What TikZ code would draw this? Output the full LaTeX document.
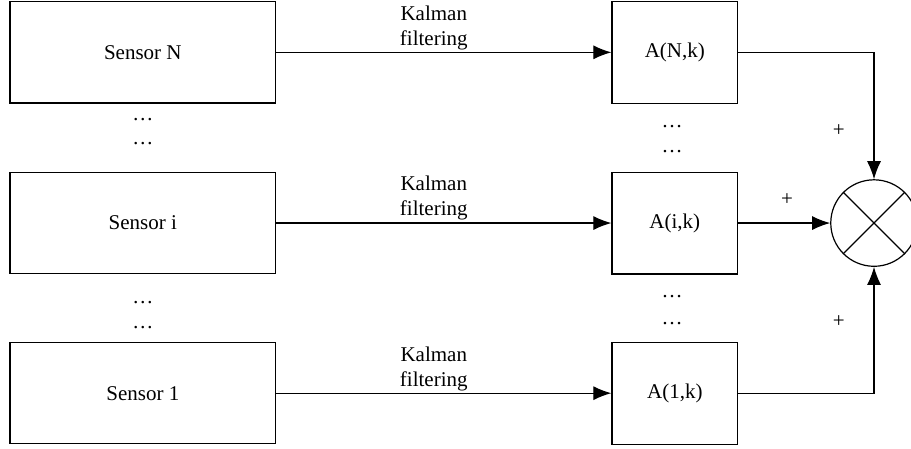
\documentclass[tikz,border=0pt]{standalone}
\usepackage{fontspec}
\setmainfont{Liberation Serif}
\usepackage{tikz}
\usetikzlibrary{shapes,arrows.meta,positioning,calc}

\begin{document}
\begin{tikzpicture}[
  sensorbox/.style={rectangle, draw, line width=0.6pt, minimum width=4.67cm, minimum height=1.78cm},
  gainbox/.style={rectangle, draw, line width=0.6pt, minimum width=2.21cm, minimum height=1.79cm},
  flow/.style={line width=0.6pt, -{Latex[length=9pt,width=7pt]}},
  font=\fontsize{10.5}{12.5}\selectfont]
\useasboundingbox (0,0) rectangle (16.01,7.89);

\node[sensorbox] (sensN) at (2.51,6.97) {Sensor N};
\node[sensorbox] (sensi) at (2.51,3.97) {Sensor i};
\node[sensorbox] (sens1) at (2.51,0.98) {Sensor 1};

\node[gainbox] (gainN) at (11.86,6.97) {A(N,k)};
\node[gainbox] (gaini) at (11.86,3.97) {A(i,k)};
\node[gainbox] (gain1) at (11.86,0.98) {A(1,k)};

\node[circle, draw, line width=0.6pt, minimum size=1.52cm, inner sep=0pt] (sum) at (15.36,3.97) {};
\draw[line width=0.6pt] (sum.north east) -- (sum.south west);
\draw[line width=0.6pt] (sum.north west) -- (sum.south east);

% Filter branches
\draw[flow] (sensN) -- node[above, pos=0.47, align=center, inner sep=1pt] {Kalman\\filtering} (gainN);
\draw[flow] (sensi) -- node[above, pos=0.47, align=center, inner sep=1pt] {Kalman\\filtering} (gaini);
\draw[flow] (sens1) -- node[above, pos=0.47, align=center, inner sep=1pt] {Kalman\\filtering} (gain1);

% Into the sum
\draw[flow] (gainN.east) -| (sum.north);
\draw[flow] (gaini) -- (sum);
\draw[flow] (gain1.east) -| (sum.south);

\node (plusN) at (14.74,5.59) {+};
\node (plusi) at (13.83,4.39) {+};
\node (plus1) at (14.74,2.23) {+};

% Ellipses
\node (dotsA) at (2.51,5.78) {\dots};
\node (dotsB) at (2.51,5.36) {\dots};
\node (dotsC) at (2.51,2.57) {\dots};
\node (dotsD) at (2.51,2.13) {\dots};
\node (dotsE) at (11.81,5.66) {\dots};
\node (dotsF) at (11.81,5.22) {\dots};
\node (dotsG) at (11.81,2.67) {\dots};
\node (dotsH) at (11.81,2.21) {\dots};
\end{tikzpicture}
\end{document}
